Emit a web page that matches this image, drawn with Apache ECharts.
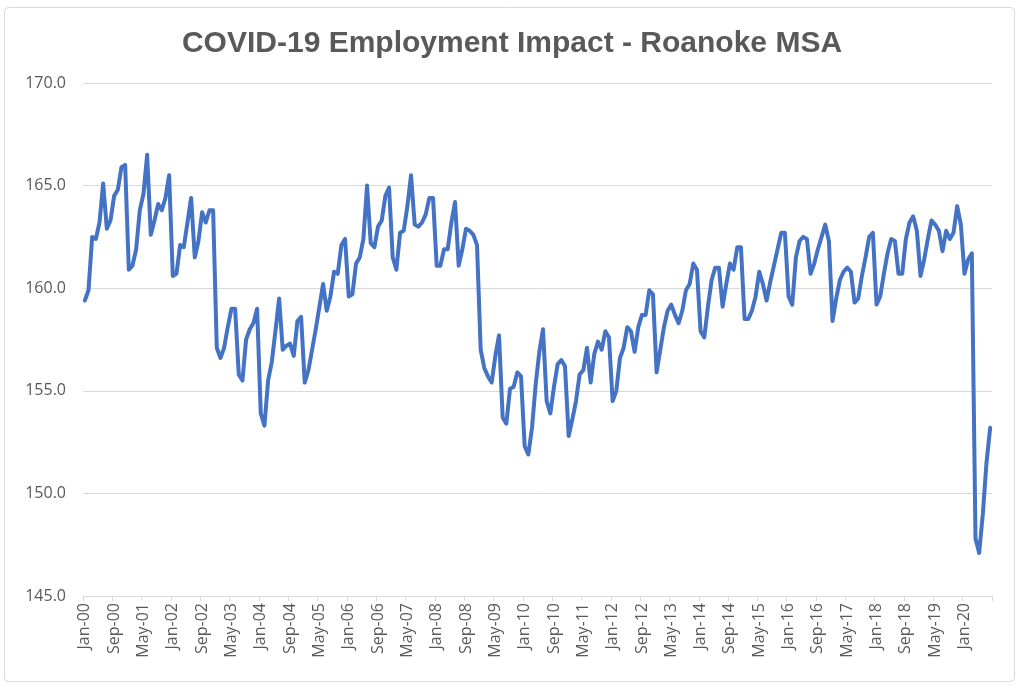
<!DOCTYPE html>
<html>
<head>
<meta charset="utf-8">
<script src="https://cdn.jsdelivr.net/npm/echarts@6/dist/echarts.min.js"></script>
<style>
html,body{margin:0;padding:0;background:#fff;}
#chart{width:1024px;height:690px;}
</style>
</head>
<body>
<div id="chart"></div>
<script>
// Month names and years used to build the category labels (Jan-00 ... Aug-20)
var monthNames = ['Jan','Feb','Mar','Apr','May','Jun','Jul','Aug','Sep','Oct','Nov','Dec'];
var startYear = 2000;
var monthCount = 248;

// Employment (thousands), one value per month
var values2000 = [159.4, 159.9, 162.5, 162.4, 163.2, 165.1, 162.9, 163.3, 164.5, 164.8, 165.9, 166.0];
var values2001 = [160.9, 161.1, 161.9, 163.8, 164.6, 166.5, 162.6, 163.3, 164.1, 163.8, 164.4, 165.5];
var values2002 = [160.6, 160.7, 162.1, 162.0, 163.2, 164.4, 161.5, 162.3, 163.7, 163.2, 163.8, 163.8];
var values2003 = [157.1, 156.6, 157.1, 158.1, 159.0, 159.0, 155.8, 155.5, 157.5, 158.0, 158.3, 159.0];
var values2004 = [153.9, 153.3, 155.5, 156.4, 157.9, 159.5, 157.0, 157.2, 157.3, 156.7, 158.4, 158.6];
var values2005 = [155.4, 156.0, 157.0, 158.0, 159.1, 160.2, 158.9, 159.6, 160.8, 160.7, 162.1, 162.4];
var values2006 = [159.6, 159.7, 161.2, 161.5, 162.4, 165.0, 162.2, 162.0, 163.0, 163.3, 164.5, 164.9];
var values2007 = [161.5, 160.9, 162.7, 162.8, 164.0, 165.5, 163.1, 163.0, 163.2, 163.6, 164.4, 164.4];
var values2008 = [161.1, 161.1, 161.9, 161.9, 163.2, 164.2, 161.1, 161.9, 162.9, 162.8, 162.6, 162.1];
var values2009 = [157.0, 156.1, 155.7, 155.4, 156.7, 157.7, 153.7, 153.4, 155.1, 155.2, 155.9, 155.7];
var values2010 = [152.3, 151.9, 153.2, 155.3, 156.9, 158.0, 154.5, 153.9, 155.2, 156.3, 156.5, 156.2];
var values2011 = [152.8, 153.6, 154.5, 155.8, 156.0, 157.1, 155.4, 156.8, 157.4, 157.0, 157.9, 157.6];
var values2012 = [154.5, 155.0, 156.6, 157.1, 158.1, 157.9, 156.9, 158.1, 158.7, 158.7, 159.9, 159.7];
var values2013 = [155.9, 157.0, 158.1, 158.9, 159.2, 158.7, 158.3, 158.9, 159.9, 160.2, 161.2, 160.9];
var values2014 = [157.9, 157.6, 159.1, 160.4, 161.0, 161.0, 159.1, 160.2, 161.2, 160.9, 162.0, 162.0];
var values2015 = [158.5, 158.5, 158.9, 159.6, 160.8, 160.2, 159.4, 160.3, 161.1, 161.9, 162.7, 162.7];
var values2016 = [159.6, 159.2, 161.5, 162.3, 162.5, 162.4, 160.7, 161.2, 161.9, 162.5, 163.1, 162.3];
var values2017 = [158.4, 159.5, 160.4, 160.8, 161.0, 160.8, 159.3, 159.5, 160.6, 161.5, 162.5, 162.7];
var values2018 = [159.2, 159.6, 160.7, 161.7, 162.4, 162.3, 160.7, 160.7, 162.4, 163.2, 163.5, 162.8];
var values2019 = [160.6, 161.4, 162.4, 163.3, 163.1, 162.8, 161.8, 162.8, 162.4, 162.7, 164.0, 163.1];
var values2020 = [160.7, 161.4, 161.7, 147.8, 147.1, 149.0, 151.5, 153.2];

// Y-axis tick settings
var yMin = 145, yMax = 170, yStep = 5;

var categories = [];
for (var i = 0; i < monthCount; i++) {
  var y = startYear + Math.floor(i / 12);
  categories.push(monthNames[i % 12] + '-' + String(y % 100).padStart(2, '0'));
}
var values = [].concat(values2000, values2001, values2002, values2003, values2004,
  values2005, values2006, values2007, values2008, values2009, values2010,
  values2011, values2012, values2013, values2014, values2015, values2016,
  values2017, values2018, values2019, values2020);

var chart = echarts.init(document.getElementById('chart'), null, {renderer: 'canvas'});
chart.setOption({
  backgroundColor: '#ffffff',
  animation: false,
  title: {
    text: 'COVID-19 Employment Impact - Roanoke MSA',
    left: 'center',
    top: 24,
    textStyle: {
      fontFamily: 'Liberation Sans',
      fontWeight: 'bold',
      fontSize: 30,
      color: '#595959'
    }
  },
  graphic: [{
    type: 'rect',
    shape: {x: 4.5, y: 7.5, width: 1010, height: 674, r: 4},
    style: {fill: 'none', stroke: '#d9d9d9', lineWidth: 1},
    silent: true,
    z: -1
  }],
  grid: {left: 83, right: 32, top: 83, bottom: 94, containLabel: false},
  xAxis: {
    type: 'category',
    data: categories,
    boundaryGap: true,
    axisLine: {show: true, lineStyle: {color: '#d9d9d9', width: 1}},
    axisTick: {show: true, interval: 7, length: 5, lineStyle: {color: '#d9d9d9'}},
    axisLabel: {
      interval: 7,
      rotate: 90,
      margin: 7,
      fontFamily: 'Open Sans',
      fontSize: 16,
      color: '#595959'
    },
    splitLine: {show: false}
  },
  yAxis: {
    type: 'value',
    min: yMin,
    max: yMax,
    interval: yStep,
    axisLine: {show: false},
    axisTick: {show: false},
    axisLabel: {
      margin: 17,
      fontFamily: 'Open Sans',
      fontSize: 16,
      color: '#595959',
      formatter: function (v) { return v.toFixed(1); }
    },
    splitLine: {show: true, lineStyle: {color: '#d9d9d9', width: 1}}
  },
  series: [{
    type: 'line',
    data: values,
    showSymbol: false,
    symbol: 'none',
    smooth: false,
    lineStyle: {color: '#4472C4', width: 4, cap: 'round', join: 'round'},
    itemStyle: {color: '#4472C4'}
  }]
});
</script>
</body>
</html>
